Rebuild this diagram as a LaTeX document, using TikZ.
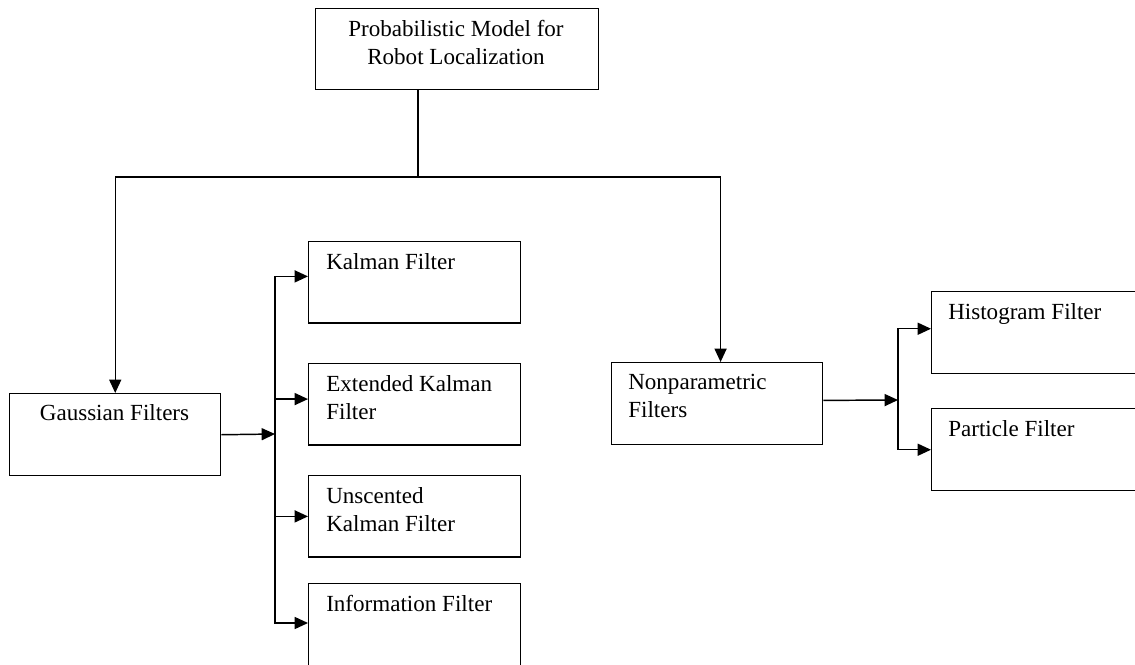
\documentclass[tikz,border=0pt]{standalone}
\usepackage{fontspec}
\setmainfont{Liberation Serif}
\usetikzlibrary{arrows.meta,calc}
\begin{document}
\begin{tikzpicture}[x=0.75pt,y=-0.75pt,
  box/.style={draw,line width=1.1pt,inner sep=0pt,anchor=north west},
  wbox/.style={box,minimum width=159pt,minimum height=61pt},
  txt/.style={inner sep=0pt,font=\fontsize{17.3}{21}\selectfont,align=left},
  conn/.style={line width=1.1pt},
  arr/.style={conn,-{Triangle[length=10pt,width=9pt]}}]
\useasboundingbox (0,0) rectangle (1135,664);
\clip (0,0) rectangle (1135,664);
% boxes
\node[box,minimum width=212.25pt,minimum height=60.75pt] (top) at (315,8) {};
\node[txt,align=center,anchor=north] (toptxt) at (456,20) {Probabilistic Model for\\Robot Localization};
\node[box,minimum width=158.25pt,minimum height=61.5pt] (gf) at (9,393) {};
\node[txt,anchor=north] (gftxt) at (114.5,404) {Gaussian Filters};
\node[wbox] (kf) at (308,241) {};
\node[txt,anchor=north west] (kftxt) at ($(kf.north west)+(18,12)$) {Kalman Filter};
\node[wbox] (ekf) at (308,363) {};
\node[txt,anchor=north west] (ekftxt) at ($(ekf.north west)+(18,12)$) {Extended Kalman\\Filter};
\node[wbox] (ukf) at (308,475) {};
\node[txt,anchor=north west] (ukftxt) at ($(ukf.north west)+(18,12)$) {Unscented\\Kalman Filter};
\node[box,minimum width=159pt,minimum height=75pt] (inf) at (308,583) {};
\node[txt,anchor=north west] (inftxt) at ($(inf.north west)+(18,12)$) {Information Filter};
\node[box,minimum width=158.25pt,minimum height=61.5pt] (np) at (611,362) {};
\node[txt,anchor=north west] (nptxt) at ($(np.north west)+(17,12)$) {Nonparametric\\Filters};
\node[box,minimum width=175pt,minimum height=61.5pt] (hf) at (931,291) {};
\node[txt,anchor=north west] (hftxt) at ($(hf.north west)+(17,12)$) {Histogram Filter};
\node[box,minimum width=175pt,minimum height=61.5pt] (pf) at (931,408) {};
\node[txt,anchor=north west] (pftxt) at ($(pf.north west)+(17,12)$) {Particle Filter};
% connectors
\coordinate (j) at (418,177);
\draw[conn] (j |- top.south) -- (j);
\draw[arr] (j) -| (gf.north);
\draw[arr] (j) -| ([xshift=2.5pt]np.north);
\coordinate (b1) at (275,434);
\draw[arr] (gf.east) -- (b1);
\draw[arr] (b1) |- ([yshift=4.5pt]kf.west);
\draw[arr] (b1) |- ([yshift=4pt]ekf.west);
\draw[arr] (b1) |- (ukf.west);
\draw[arr] (b1) |- (inf.west |- 0,623);
\coordinate (b2) at (898,400);
\draw[arr] ([yshift=2.5pt]np.east) -- (b2);
\draw[arr] (b2) |- ([yshift=3pt]hf.west);
\draw[arr] (b2) |- (pf.west);
\end{tikzpicture}
\end{document}
